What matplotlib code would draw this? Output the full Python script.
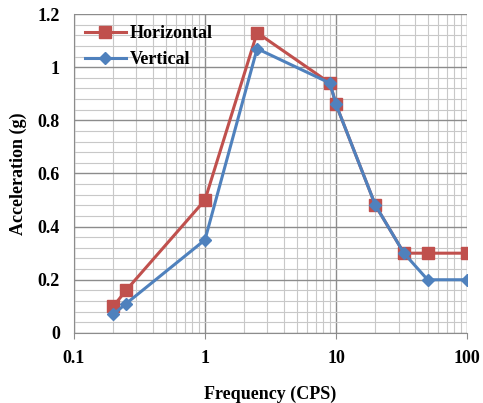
import matplotlib
matplotlib.use("Agg")
import matplotlib.pyplot as plt
from matplotlib.ticker import FixedLocator, LogLocator, MultipleLocator, NullFormatter

freq_h = [0.2, 0.25, 1, 2.5, 9, 10, 20, 33, 50, 100]
acc_h = [0.10, 0.16, 0.50, 1.13, 0.94, 0.86, 0.48, 0.30, 0.30, 0.30]
freq_v = [0.2, 0.25, 1, 2.5, 9, 10, 20, 33, 50, 100]
acc_v = [0.07, 0.11, 0.35, 1.07, 0.94, 0.86, 0.48, 0.30, 0.20, 0.20]

x_ticks = [0.1, 1, 10, 100]
x_labels = ["0.1", "1", "10", "100"]
y_ticks = [0, 0.2, 0.4, 0.6, 0.8, 1.0, 1.2]
y_labels = ["0", "0.2", "0.4", "0.6", "0.8", "1", "1.2"]

plt.rcParams["font.family"] = ["Liberation Serif", "DejaVu Serif"]
plt.rcParams["font.weight"] = "bold"

fig = plt.figure(figsize=(4.83, 4.03), dpi=100)
ax = fig.add_axes([0.153, 0.174, 0.814, 0.791])

ax.set_xscale("log")
ax.set_xlim(0.1, 100)
ax.set_ylim(0, 1.2)

ax.xaxis.set_major_locator(FixedLocator(x_ticks))
ax.set_xticklabels(x_labels)
ax.xaxis.set_minor_locator(LogLocator(base=10, subs=range(2, 10)))
ax.xaxis.set_minor_formatter(NullFormatter())
ax.yaxis.set_major_locator(FixedLocator(y_ticks))
ax.set_yticklabels(y_labels)
ax.yaxis.set_minor_locator(MultipleLocator(0.04))

ax.grid(which="major", color="#8c8c8c", linewidth=1.0)
ax.grid(which="minor", color="#c8c8c8", linewidth=0.8)
ax.set_axisbelow(True)

ax.plot(freq_h, acc_h, color="#C0504D", linewidth=2.2, marker="s",
        markersize=8, label="Horizontal", zorder=3)
ax.plot(freq_v, acc_v, color="#4F81BD", linewidth=2.2, marker="D",
        markersize=6, label="Vertical", zorder=4)

for side in ("top", "right"):
    ax.spines[side].set_visible(False)
for side in ("left", "bottom"):
    ax.spines[side].set_color("#8c8c8c")

ax.tick_params(axis="both", which="major", labelsize=13, color="#8c8c8c",
               length=4, pad=8)
ax.tick_params(axis="both", which="minor", length=0)
ax.tick_params(axis="y", length=0, pad=10)
for lbl in ax.get_xticklabels() + ax.get_yticklabels():
    lbl.set_fontweight("bold")

ax.set_xlabel("Frequency (CPS)", fontsize=13, fontweight="bold", labelpad=14)
ax.set_ylabel("Acceleration (g)", fontsize=13, fontweight="bold", labelpad=8)

leg = ax.legend(loc="upper left", frameon=False,
                prop={"weight": "bold", "size": 13}, handlelength=2.3,
                borderaxespad=0.2, labelspacing=0.5, handletextpad=0.2,
                markerscale=1.1)

fig.savefig("out.png", dpi=100)
